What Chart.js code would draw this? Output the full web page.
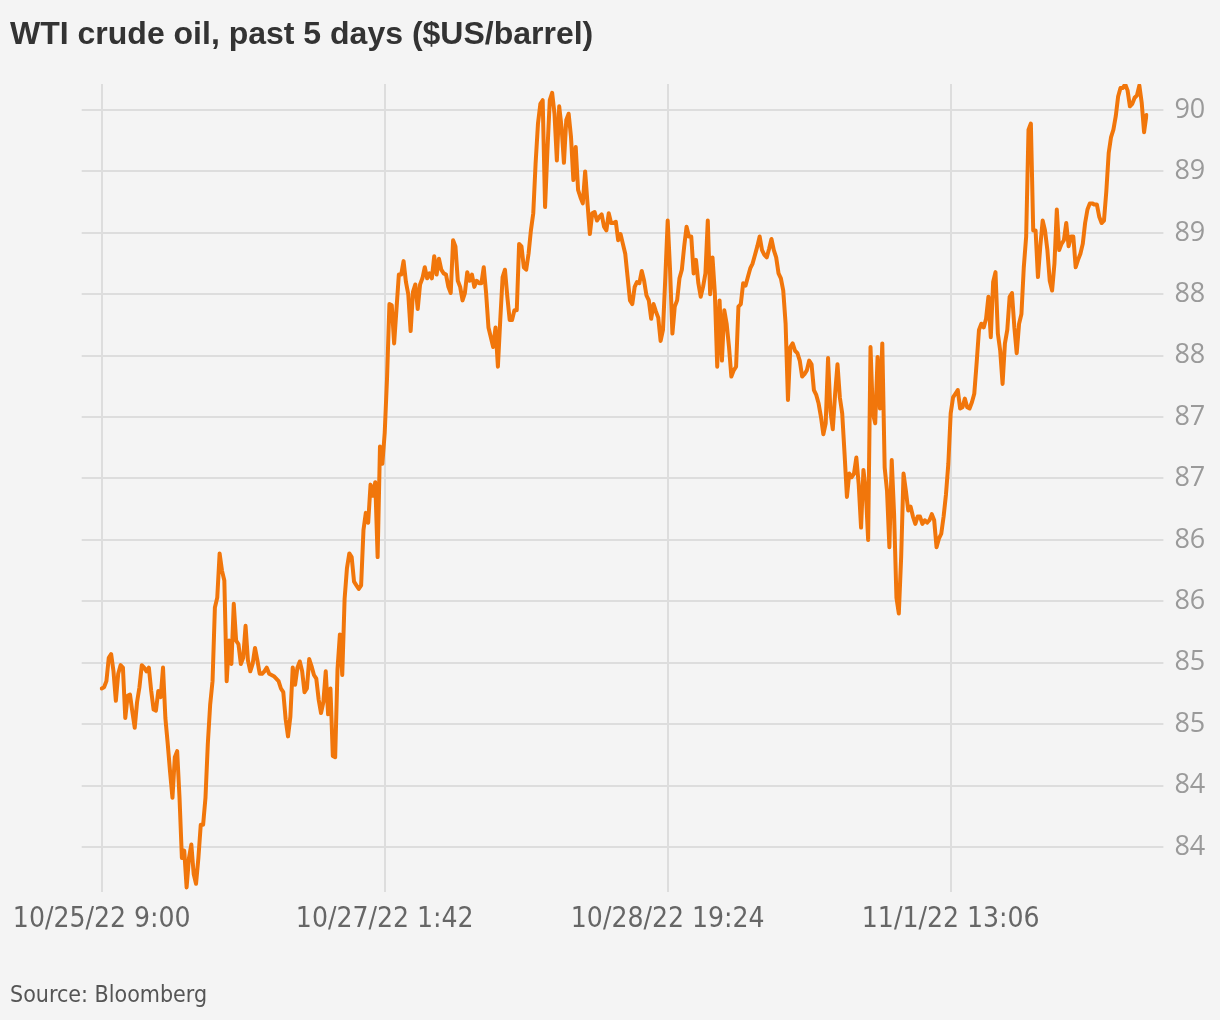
<!DOCTYPE html>
<html>
<head>
<meta charset="utf-8">
<script src="https://cdn.jsdelivr.net/npm/chart.js@4.4.0/dist/chart.umd.min.js"></script>
<style>
  html, body { margin: 0; padding: 0; background: #f4f4f4; }
  #wrap { position: relative; width: 1220px; height: 1020px; }
  #title { position: absolute; left: 10px; top: 15px; line-height: 32px; font: bold 32px "Liberation Sans Narrow", sans-serif; color: #333; white-space: nowrap; }
  #source { position: absolute; left: 10px; top: 981px; line-height: 26px; font: 23px "DejaVu Sans Condensed", sans-serif; color: #555; }
  canvas { position: absolute; left: 0; top: 0; }
</style>
</head>
<body>
<div id="wrap">
  <canvas id="oil" width="1220" height="1020"></canvas>
  <div id="title">WTI crude oil, past 5 days ($US/barrel)</div>
  <div id="source">Source: Bloomberg</div>
</div>
<script>
// WTI price, one reading per step along the x axis (120 steps between date ticks)
const prices = [
  85.29, 85.30, 85.35, 85.54, 85.57, 85.43, 85.19, 85.41, 85.48, 85.46,
  85.05, 85.23, 85.24, 85.10, 84.97, 85.18, 85.30, 85.48, 85.46, 85.43,
  85.46, 85.27, 85.12, 85.11, 85.27, 85.22, 85.46, 85.05, 84.84, 84.61,
  84.40, 84.73, 84.78, 84.40, 83.91, 83.97, 83.67, 83.91, 84.02, 83.78,
  83.70, 83.91, 84.18, 84.18, 84.40, 84.84, 85.16, 85.35, 85.95, 86.03,
  86.39, 86.25, 86.17, 85.35, 85.68, 85.49, 85.98, 85.68, 85.65, 85.49,
  85.54, 85.80, 85.52, 85.43, 85.49, 85.62, 85.52, 85.41, 85.41, 85.43,
  85.46, 85.41, 85.40, 85.39, 85.37, 85.35, 85.29, 85.26, 85.04, 84.90,
  85.06, 85.46, 85.32, 85.46, 85.51, 85.43, 85.26, 85.29, 85.53, 85.47,
  85.40, 85.37, 85.20, 85.09, 85.18, 85.43, 85.08, 85.29, 84.74, 84.73,
  85.45, 85.73, 85.40, 86.02, 86.27, 86.39, 86.36, 86.16, 86.13, 86.10,
  86.13, 86.58, 86.72, 86.64, 86.95, 86.86, 86.97, 86.36, 87.26, 87.12,
  87.37, 87.82, 88.42, 88.41, 88.10, 88.38, 88.66, 88.66, 88.77, 88.60,
  88.50, 88.20, 88.52, 88.58, 88.38, 88.58, 88.63, 88.72, 88.63, 88.67,
  88.63, 88.81, 88.66, 88.79, 88.70, 88.67, 88.66, 88.56, 88.51, 88.94,
  88.89, 88.61, 88.56, 88.45, 88.51, 88.68, 88.61, 88.66, 88.56, 88.61,
  88.59, 88.59, 88.72, 88.51, 88.23, 88.15, 88.07, 88.23, 87.91, 88.29,
  88.64, 88.70, 88.48, 88.29, 88.29, 88.37, 88.37, 88.91, 88.89, 88.72,
  88.70, 88.83, 89.02, 89.16, 89.57, 89.89, 90.05, 90.08, 89.21, 89.67,
  90.08, 90.14, 89.97, 89.59, 90.03, 89.86, 89.57, 89.92, 89.97, 89.78,
  89.43, 89.70, 89.35, 89.29, 89.24, 89.50, 89.24, 88.99, 89.16, 89.17,
  89.10, 89.13, 89.15, 89.05, 89.02, 89.16, 89.08, 89.08, 89.09, 88.94,
  88.99, 88.91, 88.83, 88.64, 88.45, 88.42, 88.56, 88.60, 88.59, 88.69,
  88.61, 88.49, 88.45, 88.30, 88.42, 88.36, 88.31, 88.12, 88.21, 88.64,
  89.10, 88.70, 88.18, 88.40, 88.45, 88.63, 88.70, 88.89, 89.05, 88.97,
  88.97, 88.67, 88.78, 88.59, 88.48, 88.56, 88.67, 89.10, 88.50, 88.80,
  88.51, 87.91, 88.45, 87.96, 88.37, 88.26, 88.07, 87.83, 87.88, 87.91,
  88.40, 88.42, 88.59, 88.57, 88.64, 88.71, 88.75, 88.82, 88.89, 88.97,
  88.86, 88.82, 88.80, 88.87, 88.95, 88.86, 88.80, 88.67, 88.63, 88.53,
  88.26, 87.64, 88.07, 88.10, 88.04, 88.02, 87.96, 87.83, 87.85, 87.88,
  87.96, 87.93, 87.72, 87.68, 87.61, 87.50, 87.36, 87.45, 87.98, 87.55,
  87.40, 87.69, 87.93, 87.66, 87.53, 87.20, 86.85, 87.04, 87.01, 87.04,
  87.17, 86.95, 86.60, 87.07, 86.90, 86.50, 88.07, 87.53, 87.45, 87.99,
  87.57, 88.10, 87.09, 86.90, 86.44, 87.15, 86.71, 86.03, 85.90, 86.36,
  87.04, 86.90, 86.74, 86.77, 86.69, 86.63, 86.69, 86.69, 86.63, 86.66,
  86.64, 86.66, 86.71, 86.66, 86.44, 86.51, 86.55, 86.69, 86.87, 87.12,
  87.53, 87.66, 87.69, 87.72, 87.57, 87.58, 87.65, 87.58, 87.57, 87.62,
  87.69, 87.94, 88.21, 88.26, 88.23, 88.30, 88.48, 88.15, 88.60, 88.68,
  88.18, 88.04, 87.77, 88.10, 88.21, 88.48, 88.51, 88.23, 88.02, 88.26,
  88.34, 88.72, 88.97, 89.84, 89.89, 89.02, 89.02, 88.64, 88.89, 89.10,
  89.02, 88.86, 88.61, 88.53, 88.75, 89.19, 88.86, 88.91, 88.94, 89.08,
  88.89, 88.97, 88.97, 88.72, 88.78, 88.83, 88.91, 89.08, 89.19, 89.24,
  89.24, 89.23, 89.23, 89.13, 89.08, 89.10, 89.34, 89.65, 89.78, 89.84,
  89.95, 90.11, 90.18, 90.18, 90.21, 90.16, 90.03, 90.05, 90.10, 90.12,
  90.20, 90.06, 89.82, 89.96
];

const xTickIndex = [0, 120, 240, 360];
const xTickLabels = ["10/25/22 9:00", "10/27/22 1:42", "10/28/22 19:24", "11/1/22 13:06"];

const yTickValues = [84, 84.5, 85, 85.5, 86, 86.5, 87, 87.5, 88, 88.5, 89, 89.5, 90];
const yTickLabels = ["84", "84", "85", "85", "86", "86", "87", "87", "88", "88", "89", "89", "90"];

const gridColor = "#dddddd";

function setYTicks(scale) {
  scale.ticks = yTickValues.map(v => ({ value: v }));
}

new Chart(document.getElementById("oil"), {
  type: "line",
  data: {
    labels: prices.map((p, i) => i),
    datasets: [
      {
        data: prices,
        borderColor: "#f1760b",
        borderWidth: 4,
        borderJoinStyle: "round",
        borderCapStyle: "round",
        pointRadius: 0,
        tension: 0,
        fill: false,
        yAxisID: "y",
      },
    ],
  },
  options: {
    responsive: false,
    animation: false,
    devicePixelRatio: 1,
    layout: {
      padding: { left: 81.7, top: 84, right: 3.7, bottom: 72.4 },
    },
    plugins: {
      legend: { display: false },
      tooltip: { enabled: false },
    },
    scales: {
      x: {
        type: "category",
        border: { display: false },
        afterBuildTicks: (scale) => {
          scale.ticks = scale.ticks.filter(t => xTickIndex.includes(t.value));
        },
        grid: { color: gridColor, lineWidth: 2, drawTicks: false },
        ticks: {
          autoSkip: false,
          maxRotation: 0,
          padding: 11,
          color: "#666666",
          font: { family: "DejaVu Sans Condensed", size: 28 },
          callback: (value) => xTickLabels[xTickIndex.indexOf(value)],
        },
      },
      y: {
        position: "right",
        min: 83.633,
        max: 90.212,
        border: { display: false },
        afterBuildTicks: setYTicks,
        grid: { color: gridColor, lineWidth: 2, tickLength: 17 },
        ticks: {
          padding: 11,
          color: "#9a9a9a",
          font: { family: "Open Sans", size: 27 },
          callback: (value, index) => yTickLabels[index],
        },
      },
      yLeft: {
        position: "left",
        min: 83.633,
        max: 90.212,
        border: { display: false },
        afterBuildTicks: setYTicks,
        grid: { color: gridColor, lineWidth: 2, tickLength: 20, drawOnChartArea: false },
        ticks: { display: false },
      },
    },
  },
});
</script>
</body>
</html>
